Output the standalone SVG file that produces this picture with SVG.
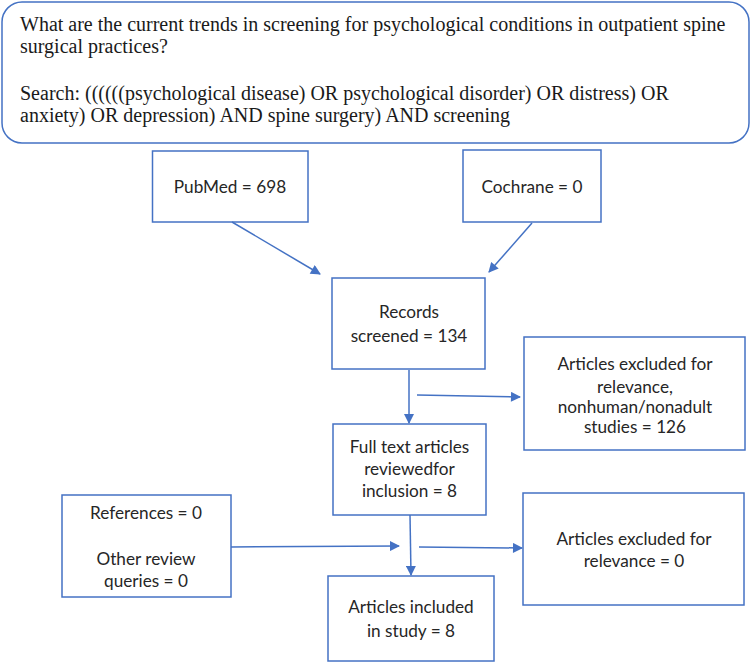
<svg xmlns="http://www.w3.org/2000/svg" width="751" height="663" viewBox="0 0 751 663">
<style>
.box{fill:#fff;stroke:#4472C4;stroke-width:1.5}
.t{font-family:Lato,"Liberation Sans",sans-serif;font-size:17.2px;fill:#262626;text-anchor:middle}
.q{font-family:"Liberation Serif","Times New Roman",serif;font-size:20px;fill:#1a1a1a}
.c{stroke:#4472C4;stroke-width:1.5;fill:none;marker-end:url(#ah)}
</style>
<defs>
<marker id="ah" viewBox="0 0 10 10" refX="9" refY="5" markerWidth="11" markerHeight="10" markerUnits="userSpaceOnUse" orient="auto">
<path d="M0,0 L10,5 L0,10 z" fill="#4472C4"/>
</marker>
</defs>
<rect width="751" height="663" fill="#fff"/>
<g id="question">
<rect class="box" x="2" y="2" width="747" height="141" rx="20" ry="20"/>
<text class="q" x="20" y="31">What are the current trends in screening for psychological conditions in outpatient spine</text>
<text class="q" x="20" y="53">surgical practices?</text>
<text class="q" x="20" y="100">Search: ((((((psychological disease) OR psychological disorder) OR distress) OR</text>
<text class="q" x="20" y="122">anxiety) OR depression) AND spine surgery) AND screening</text>
</g>
<g id="pubmed">
<rect class="box" x="152.5" y="151" width="155.5" height="71"/>
<text class="t" x="230" y="193">PubMed = 698</text>
</g>
<g id="cochrane">
<rect class="box" x="463" y="150" width="138" height="72"/>
<text class="t" x="532" y="193">Cochrane = 0</text>
</g>
<g id="records">
<rect class="box" x="332" y="278" width="153" height="91"/>
<text class="t" x="409" y="318">Records</text>
<text class="t" x="409" y="342">screened = 134</text>
</g>
<g id="excluded1">
<rect class="box" x="524" y="337" width="221" height="113"/>
<text class="t" x="635" y="370">Articles excluded for</text>
<text class="t" x="635" y="393">relevance,</text>
<text class="t" x="635" y="413">nonhuman/nonadult</text>
<text class="t" x="635" y="433">studies = 126</text>
</g>
<g id="fulltext">
<rect class="box" x="333" y="424" width="153" height="91"/>
<text class="t" x="409.5" y="453">Full text articles</text>
<text class="t" x="409.5" y="475">reviewedfor</text>
<text class="t" x="409.5" y="497">inclusion = 8</text>
</g>
<g id="references">
<rect class="box" x="62" y="495" width="169" height="102"/>
<text class="t" x="146" y="519">References = 0</text>
<text class="t" x="146" y="565">Other review</text>
<text class="t" x="146" y="587">queries = 0</text>
</g>
<g id="excluded2">
<rect class="box" x="523" y="493" width="221" height="112"/>
<text class="t" x="634" y="545">Articles excluded for</text>
<text class="t" x="634" y="567">relevance = 0</text>
</g>
<g id="included">
<rect class="box" x="328" y="576" width="166" height="85"/>
<text class="t" x="411" y="613">Articles included</text>
<text class="t" x="411" y="637">in study = 8</text>
</g>
<g id="connectors">
<line class="c" x1="232" y1="222" x2="320" y2="274"/>
<line class="c" x1="532" y1="223" x2="489" y2="272"/>
<line class="c" x1="409" y1="370" x2="409" y2="423"/>
<line class="c" x1="417" y1="395" x2="520" y2="397"/>
<line class="c" x1="231" y1="547" x2="399" y2="546"/>
<line class="c" x1="410" y1="515" x2="411" y2="575"/>
<line class="c" x1="419" y1="547" x2="522" y2="548"/>
</g>
</svg>
